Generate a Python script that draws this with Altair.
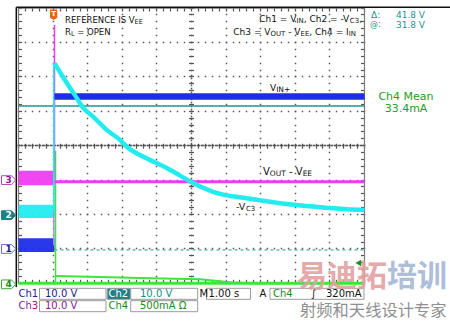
import math
import altair as alt
import pandas as pd

# ------------------------------------------------------------------
# Values.
# time: seconds (1.00 s/div), vertical: screen divisions
# (Ch1..Ch3 10.0 V/div, Ch4 500 mA/div)
# ------------------------------------------------------------------
step_time = 0.04

ch1_pre_level = -2.89
ch1_pre_noise = 0.40
ch1_post_level = 1.43

ch2_pre_level = -1.91
ch2_pre_noise = 0.38
ch2_time = [0.04, 0.34, 0.63, 0.87, 1.16, 1.55, 1.93, 2.13, 2.71, 3.23, 3.67,
            3.96, 4.62, 5.60, 6.56, 7.51, 8.49, 9.0]
ch2_div = [2.40, 1.91, 1.47, 1.10, 0.84, 0.46, 0.17, -0.03, -0.37, -0.62, -0.87,
           -1.04, -1.34, -1.53, -1.67, -1.77, -1.85, -1.87]

ch3_pre_level = -0.94
ch3_pre_noise = 0.42
ch3_post_level = -1.05
ch3_spike_top = 3.51

ch4_zero_level = -4.0
ch4_time = [0.06, 1.36, 2.80, 4.25, 5.11, 5.69, 9.0]
ch4_div = [-3.79, -3.82, -3.85, -3.88, -3.97, -4.0, -4.0]
ch4_spike_top = -0.15

cursor_levels = [1.154, -3.03]          # @: 31.8 V, delta 41.8 V
ground_channels = ["3", "2", "1", "4"]
ground_levels = [-1.0, -2.02, -3.0, -4.03]
trigger_level = -3.41

# ------------------------------------------------------------------
W, H = 450, 321
PX_LEFT, PX_PER_DIV_X = 18.5, 34.6
PY_CENTER, PX_PER_DIV_Y = 145.7, 34.4


def tx(px):
    return -1 + (px - PX_LEFT) / PX_PER_DIV_X


def dv(py):
    return (PY_CENTER - py) / PX_PER_DIV_Y


def sx(t):
    """snap a time value to the centre of its screen pixel (crisp graticule)"""
    return tx(math.floor(PX_LEFT + (t + 1) * PX_PER_DIV_X) + 0.5)


def sy(d):
    return dv(math.floor(PY_CENTER - d * PX_PER_DIV_Y) + 0.5)


XS = alt.Scale(domain=[tx(0), tx(W)], nice=False, zero=False)
YS = alt.Scale(domain=[dv(H), dv(0)], nice=False, zero=False)


def enc(x2=False, y2=False, **extra):
    e = dict(x=alt.X("x:Q", scale=XS, axis=None),
             y=alt.Y("y:Q", scale=YS, axis=None))
    if x2:
        e["x2"] = alt.X2("x2:Q")
    if y2:
        e["y2"] = alt.Y2("y2:Q")
    e.update(extra)
    return e


CH = {"1": "#1d2de8", "2": "#22ecf0", "3": "#f03cf0", "4": "#3ce63c"}
CUR = "#1b9494"
GRID = "#555555"
FONT = "DejaVu Sans"

layers = []

# ---------------- graticule ----------------
dots = []
for k in range(0, 9):
    for i in range(-20, 21):
        dots.append(dict(x=sx(k), y=sy(i / 5)))
for k in range(-3, 4):
    for i in range(-5, 46):
        dots.append(dict(x=sx(i / 5), y=sy(k)))
for i in range(-25, 226):           # denser dots on the centre cross
    dots.append(dict(x=sx(i / 25), y=sy(0)))
for i in range(-20, 21):
    dots.append(dict(x=sx(4), y=sy(i / 10 + 0.05)))
layers.append(alt.Chart(pd.DataFrame(dots)).mark_square(
    size=2.2, color=GRID, opacity=1).encode(**enc()))

ticks = []
for i in range(-5, 46):
    f = sx(i / 5)
    ticks.append(dict(x=f, x2=f, y=dv(PY_CENTER - 2), y2=dv(PY_CENTER + 3)))
    ticks.append(dict(x=f, x2=f, y=dv(8), y2=dv(11.5)))
    ticks.append(dict(x=f, x2=f, y=dv(283.3), y2=dv(279.8)))
for i in range(-20, 21):
    f = sy(i / 5)
    ticks.append(dict(x=tx(189), x2=tx(194), y=f, y2=f))
    ticks.append(dict(x=tx(18.5), x2=tx(22), y=f, y2=f))
    ticks.append(dict(x=tx(361), x2=tx(364.5), y=f, y2=f))
layers.append(alt.Chart(pd.DataFrame(ticks)).mark_rule(
    color=GRID, strokeWidth=1.2).encode(**enc(True, True)))

layers.append(alt.Chart(pd.DataFrame([dict(x=-1, x2=9, y=-4, y2=4)])).mark_rect(
    fillOpacity=0, stroke="#7a7a7a", strokeWidth=1.2).encode(**enc(True, True)))

# outer frame lines
frame = [dict(x=tx(16.3), x2=tx(W), y=dv(7.3), y2=dv(7.3)),
         dict(x=tx(16.3), x2=tx(16.3), y=dv(7.3), y2=dv(287))]
layers.append(alt.Chart(pd.DataFrame(frame)).mark_rule(
    color="#111111", strokeWidth=1.5).encode(**enc(True, True)))

# ---------------- cursors ----------------
layers.append(alt.Chart(pd.DataFrame([dict(x=-1, x2=9, y=cursor_levels[0], y2=cursor_levels[0])])).mark_rule(
    color=CUR, strokeWidth=1.5).encode(**enc(True, True)))
layers.append(alt.Chart(pd.DataFrame([dict(x=-1, x2=9, y=cursor_levels[1], y2=cursor_levels[1])])).mark_rule(
    color=CUR, strokeWidth=1, strokeDash=[3, 3]).encode(**enc(True, True)))

# ---------------- traces ----------------
# Ch4 (green)
layers.append(alt.Chart(pd.DataFrame(dict(x=[-1, 9], y=[ch4_zero_level] * 2))).mark_line(
    color=CH["4"], strokeWidth=3).encode(**enc()))
layers.append(alt.Chart(pd.DataFrame(dict(x=ch4_time, y=ch4_div))).mark_line(
    color=CH["4"], strokeWidth=2).encode(**enc()))

# pre-trigger noise bands
bands = []
for ch, lev, nz in [("3", ch3_pre_level, ch3_pre_noise),
                    ("2", ch2_pre_level, ch2_pre_noise),
                    ("1", ch1_pre_level, ch1_pre_noise)]:
    bands.append(dict(x=-1, x2=step_time, y=lev - nz / 2, y2=lev + nz / 2, color=CH[ch]))
layers.append(alt.Chart(pd.DataFrame(bands)).mark_rect(opacity=0.95).encode(
    **enc(True, True, color=alt.Color("color:N", scale=None))))

# step edges
steps = [dict(x=step_time + 0.03, x2=step_time + 0.03, y=ch4_zero_level, y2=ch4_spike_top, color=CH["4"]),
         dict(x=step_time, x2=step_time, y=ch3_pre_level, y2=ch3_spike_top, color=CH["3"]),
         dict(x=step_time - 0.02, x2=step_time - 0.02, y=ch1_pre_level, y2=ch1_post_level, color="#9f8ff5"),
         dict(x=step_time - 0.02, x2=step_time - 0.02, y=ch2_pre_level, y2=ch2_div[0], color=CH["2"])]
layers.append(alt.Chart(pd.DataFrame(steps)).mark_rule(strokeWidth=1.5).encode(
    **enc(True, True, color=alt.Color("color:N", scale=None))))

# Ch3 post
layers.append(alt.Chart(pd.DataFrame(dict(x=[step_time, 9], y=[ch3_post_level] * 2))).mark_line(
    color=CH["3"], strokeWidth=3).encode(**enc()))
# Ch1 post
layers.append(alt.Chart(pd.DataFrame(dict(x=[step_time, 9], y=[ch1_post_level] * 2))).mark_line(
    color=CH["1"], strokeWidth=6.5).encode(**enc()))
# Ch2 decay
layers.append(alt.Chart(pd.DataFrame(dict(x=ch2_time, y=ch2_div))).mark_line(
    color=CH["2"], strokeWidth=4.5, interpolate="monotone").encode(**enc()))

# ---------------- markers ----------------
MK_PATH = "M-1,-0.62L0.42,-0.62L1,0L0.42,0.62L-1,0.62Z"
mk_fill = {"1": "#ffffff", "2": "#1f7f87", "3": "#ffffff", "4": "#ffffff"}
mk_stroke = {"1": "#6b6bd6", "2": "#1f7f87", "3": "#b04cb0", "4": "#3aa83a"}
mk_text = {"1": "#20208c", "2": "#ffffff", "3": "#8a1a8a", "4": "#1a8a1a"}
mk = pd.DataFrame(dict(
    x=[tx(10.3)] * 4, y=ground_levels, label=ground_channels,
    fill=[mk_fill[c] for c in ground_channels],
    stroke=[mk_stroke[c] for c in ground_channels],
    tcol=[mk_text[c] for c in ground_channels]))
layers.append(alt.Chart(mk).mark_point(shape=MK_PATH, size=200, filled=True, strokeWidth=1, opacity=1).encode(
    **enc(fill=alt.Fill("fill:N", scale=None), stroke=alt.Stroke("stroke:N", scale=None))))
mk["x"] = tx(8.6)
layers.append(alt.Chart(mk).mark_text(font=FONT, fontSize=9, fontWeight="bold", align="center", baseline="middle").encode(
    **enc(text="label:N", color=alt.Color("tcol:N", scale=None))))

# trigger position marker (T) and trigger level marker
layers.append(alt.Chart(pd.DataFrame(dict(x=[tx(53.6)], y=[dv(14.8)]))).mark_point(
    shape="M-0.7,-1L0.7,-1L0.7,0.55L0,1L-0.7,0.55Z", size=110, filled=True, color="#e8641e", opacity=1).encode(**enc()))
layers.append(alt.Chart(pd.DataFrame(dict(x=[tx(53.6)], y=[dv(14.3)], t=["T"]))).mark_text(
    font=FONT, fontSize=7, fontWeight="bold", color="white", align="center", baseline="middle").encode(**enc(text="t:N")))
layers.append(alt.Chart(pd.DataFrame(dict(x=[tx(358.3)], y=[trigger_level]))).mark_point(
    shape="triangle-left", size=45, filled=True, color="#1a8f1a", opacity=1).encode(**enc()))

# ---------------- text ----------------
DVW = {" ": 318, "!": 401, ",": 318, "-": 361, ".": 318, ":": 337, "=": 838, "+": 838,
       "@": 1000, "A": 684, "C": 698, "E": 632, "F": 575, "I": 295, "L": 557, "M": 863,
       "N": 748, "O": 787, "P": 603, "R": 695, "S": 635, "T": 611, "U": 732, "V": 684,
       "a": 613, "e": 615, "h": 634, "m": 974, "n": 634, "s": 521}


def width(s, size):
    return sum(DVW.get(c, 636) for c in s) * size / 1000.0


def rich(parts, x, y, size, sub, color, align="left"):
    total = sum(width(p, sub if s else size) for p, s in parts)
    x0 = x - total if align == "right" else (x - total / 2 if align == "center" else x)
    rows = []
    for p, s in parts:
        fs = sub if s else size
        lead = len(p) - len(p.lstrip(" "))
        txt = p.strip(" ")
        if txt:
            rows.append(dict(text=txt, x=tx(x0 + width(" " * lead, fs)),
                             y=dv(y + (0.26 * size if s else 0)), size=fs, color=color))
        x0 += width(p, fs)
    return rows


rows = []
rows += rich([("REFERENCE IS V", 0), ("EE", 1)], 65, 19.5, 8.5, 6.5, "#111111")
rows += rich([("R", 0), ("L", 1), (" = OPEN", 0)], 65, 31.5, 8.5, 6.5, "#111111")
rows += rich([("Ch1 = V", 0), ("IN", 1), (", Ch2 = -V", 0), ("C3", 1), (",", 0)], 362, 18.5, 9, 7, "#111111", "right")
rows += rich([("Ch3 = V", 0), ("OUT", 1), (" - V", 0), ("EE", 1), (", Ch4 = I", 0), ("IN", 1)], 356, 31.5, 9, 7, "#111111", "right")
rows += rich([("V", 0), ("IN+", 1)], 270, 88, 9, 7.5, "#111111")
rows += rich([("V", 0), ("OUT", 1), (" - V", 0), ("EE", 1)], 263, 171.5, 10, 7.5, "#111111")
rows += rich([("-V", 0), ("C3", 1)], 236, 206.5, 9.5, 7, "#111111")
rows += rich([("Δ:", 0)], 371, 14.5, 9, 9, CUR)
rows += rich([("41.8 V", 0)], 425, 14.5, 9, 9, CUR, "right")
rows += rich([("@:", 0)], 370, 24.5, 8, 8, CUR)
rows += rich([("31.8 V", 0)], 425, 24.5, 9, 9, CUR, "right")

# status bar
R1, R2 = 293.9, 306.3
rows += rich([("Ch1", 0)], 18.5, R1, 10, 10, "#20208c")
rows += rich([("10.0 V", 0)], 45, R1, 10, 10, "#20208c")
rows += rich([("Ch2", 0)], 108.5, R1, 10, 10, "#ffffff")
rows += rich([("10.0 V", 0)], 140, R1, 10, 10, "#1a8a8a")
rows += rich([("M", 0)], 199.5, R1, 10, 10, "#111111")
rows += rich([("1.00 s", 0)], 208.5, R1, 10, 10, "#111111")
rows += rich([("A", 0)], 259.5, R1, 10, 10, "#111111")
rows += rich([("Ch4", 0)], 273, R1, 10, 10, "#1a8a1a")
rows += rich([("∫", 0)], 311, R1, 10, 10, "#111111")
rows += rich([("320mA", 0)], 326, R1, 10, 10, "#111111")
rows += rich([("Ch3", 0)], 18.5, R2, 10, 10, "#8a1a8a")
rows += rich([("10.0 V", 0)], 45, R2, 10, 10, "#8a1a8a")
rows += rich([("Ch4", 0)], 108.5, R2, 10, 10, "#1a8a1a")
rows += rich([("500mA Ω", 0)], 140, R2, 10, 10, "#1a8a1a")

boxes = [(39.5, 288.3, 106, 299.3, "#ffffff"), (107.3, 288.3, 130.3, 299.3, "#1f7f87"),
         (130.7, 288.3, 197.7, 299.3, "#ffffff"), (206.5, 288.3, 250.5, 299.3, "#ffffff"),
         (270, 288.3, 364, 299.3, "#ffffff"),
         (39.5, 300.7, 106, 311.7, "#ffffff"), (130.7, 300.7, 197.7, 311.7, "#ffffff")]
bdf = pd.DataFrame([dict(x=tx(a), y=dv(b), x2=tx(c), y2=dv(d), fill=f) for a, b, c, d, f in boxes])
layers.append(alt.Chart(bdf).mark_rect(stroke="#9a9a9a", strokeWidth=1).encode(
    **enc(True, True, fill=alt.Fill("fill:N", scale=None))))

layers.append(alt.Chart(pd.DataFrame(rows)).mark_text(font=FONT, align="left", baseline="middle").encode(
    **enc(text="text:N", size=alt.Size("size:Q", scale=None), color=alt.Color("color:N", scale=None))))

mean_rows = [dict(text="Ch4 Mean", x=tx(406), y=dv(97)), dict(text="33.4mA", x=tx(406), y=dv(109))]
layers.append(alt.Chart(pd.DataFrame(mean_rows)).mark_text(
    font=FONT, fontSize=11, color="#22a022", align="center", baseline="middle").encode(**enc(text="text:N")))

# watermark
wm = pd.DataFrame([dict(text="易迪拓", x=tx(297), y=dv(277), color="#e3a1a1"),
                   dict(text="培训", x=tx(387), y=dv(277), color="#a6b6d6")])
layers.append(alt.Chart(wm).mark_text(font="Noto Sans CJK SC", fontSize=30, fontWeight="bold",
                                      align="left", baseline="middle", opacity=0.9).encode(
    **enc(text="text:N", color=alt.Color("color:N", scale=None))))
layers.append(alt.Chart(pd.DataFrame([dict(text="射频和天线设计专家", x=tx(300), y=dv(310.5))])).mark_text(
    font="Noto Sans CJK SC", fontSize=16.3, color="#8f8f8f", align="left", baseline="middle").encode(
    **enc(text="text:N")))

chart = alt.layer(*layers).properties(
    width=W, height=H, padding=0, background="white",
    autosize=alt.AutoSizeParams(type="none"),
).configure_view(stroke=None)

chart.save("out.html", embed_options={"renderer": "svg", "actions": False})
